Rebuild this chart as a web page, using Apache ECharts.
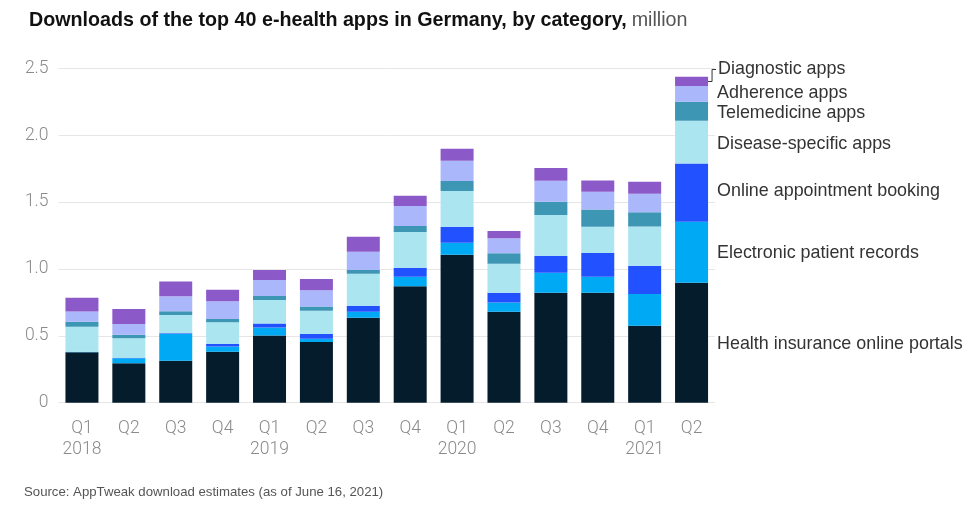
<!DOCTYPE html>
<html>
<head>
<meta charset="utf-8">
<script src="https://cdn.jsdelivr.net/npm/echarts@6/dist/echarts.min.js"></script>
<style>
html,body{margin:0;padding:0;background:#fff;}
#chart{width:969px;height:507px;}
</style>
</head>
<body>
<div id="chart"></div>
<script>
const categories = ['Q1 2018','Q2 2018','Q3 2018','Q4 2018','Q1 2019','Q2 2019','Q3 2019','Q4 2019','Q1 2020','Q2 2020','Q3 2020','Q4 2020','Q1 2021','Q2 2021'];
const yTicks = [0, 0.5, 1.0, 1.5, 2.0, 2.5];

const healthInsurance    = [0.377,0.294,0.314,0.381,0.503,0.454,0.635,0.870,1.106,0.680,0.822,0.822,0.575,0.897];
const electronicRecords  = [0.004,0.038,0.199,0.040,0.060,0.024,0.045,0.072,0.090,0.070,0.150,0.120,0.237,0.456];
const appointmentBooking = [0.000,0.004,0.006,0.018,0.030,0.035,0.045,0.067,0.119,0.072,0.127,0.177,0.212,0.436];
const diseaseSpecific    = [0.186,0.145,0.137,0.162,0.175,0.175,0.239,0.267,0.267,0.217,0.304,0.196,0.294,0.319];
const telemedicine       = [0.038,0.027,0.028,0.025,0.029,0.032,0.028,0.045,0.075,0.078,0.099,0.130,0.105,0.142];
const adherence          = [0.077,0.080,0.112,0.132,0.120,0.120,0.137,0.149,0.152,0.112,0.157,0.132,0.139,0.117];
const diagnostic         = [0.102,0.112,0.110,0.087,0.075,0.085,0.112,0.077,0.089,0.054,0.095,0.085,0.090,0.069];

const seriesNames = ['Health insurance online portals','Electronic patient records','Online appointment booking','Disease-specific apps','Telemedicine apps','Adherence apps','Diagnostic apps'];
const seriesValues = [healthInsurance, electronicRecords, appointmentBooking, diseaseSpecific, telemedicine, adherence, diagnostic];
const colors = ['#051c2c','#00a9f4','#2251ff','#abe5f0','#3c96b4','#aab7fb','#8c5ac8'];
const labelOffsets = [[0,1],[0,1],[0,-2],[0,2],[0,2],[0,-1],[1,-12]];

const chart = echarts.init(document.getElementById('chart'));
const last = categories.length - 1;
const BAR_W = 33;
const SOURCE_TEXT = 'Source: AppTweak download estimates (as of June 16, 2021)';

const series = seriesNames.map((name, si) => ({
  name: name,
  type: 'bar',
  stack: 'total',
  barWidth: BAR_W,
  itemStyle: { color: colors[si] },
  emphasis: { disabled: true },
  data: seriesValues[si].map((v, i) => i === last ? {
    value: v,
    label: {
      show: true, position: 'right', distance: 9,
      offset: labelOffsets[si],
      formatter: name,
      color: '#333', fontSize: 17.9, fontFamily: 'Liberation Sans'
    }
  } : v)
}));

chart.setOption({
  animation: false,
  title: {
    left: 24, top: 6,
    text: '{b|Downloads of the top 40 e-health apps in Germany, by category,} {r|million}',
    textStyle: {
      rich: {
        b: { fontSize: 19.7, fontWeight: 'bold', color: '#111', fontFamily: 'Liberation Sans' },
        r: { fontSize: 19.7, fontWeight: 'normal', color: '#555', fontFamily: 'Liberation Sans' }
      }
    }
  },
  grid: { left: 58.5, right: 254, top: 68.3, bottom: 104.3, containLabel: false },
  xAxis: {
    type: 'category',
    data: categories,
    axisLine: { show: false },
    axisTick: { show: false },
    axisLabel: {
      interval: 0, margin: 15, color: '#8a8a8a', fontSize: 17.5, lineHeight: 21,
      fontFamily: 'Roboto', fontWeight: 300,
      formatter: v => { const p = v.split(' '); return p[0] === 'Q1' ? p[0] + '\n' + p[1] : p[0]; }
    }
  },
  yAxis: {
    type: 'value',
    min: yTicks[0], max: yTicks[yTicks.length - 1], interval: yTicks[1] - yTicks[0],
    axisLine: { show: false },
    axisTick: { show: false },
    splitLine: { lineStyle: { color: '#e6e6e6', width: 1 } },
    axisLabel: {
      margin: 10, color: '#8a8a8a', fontSize: 17.5, fontFamily: 'Roboto', fontWeight: 300,
      formatter: v => v === 0 ? '0' : v.toFixed(1)
    }
  },
  series: series
});

// bracket connecting the Diagnostic apps label to its segment
const topVal = seriesValues.reduce((s, arr) => s + arr[last], 0);
const diagMid = topVal - diagnostic[last] / 2;
const pMid = chart.convertToPixel({ xAxisIndex: 0, yAxisIndex: 0 }, [last, diagMid]);
const xr = pMid[0] + BAR_W / 2;
const yLab = pMid[1] + labelOffsets[6][1];
chart.setOption({
  graphic: [{
    type: 'text', left: 24, top: 486,
    style: { text: SOURCE_TEXT, fill: '#555', fontSize: 13.2, fontFamily: 'Liberation Sans' }
  }, {
    type: 'polyline',
    shape: { points: [[xr, pMid[1]], [xr + 4, pMid[1]], [xr + 4, yLab], [xr + 8, yLab]] },
    style: { stroke: '#333', lineWidth: 1, fill: null }
  }]
});
</script>
</body>
</html>
